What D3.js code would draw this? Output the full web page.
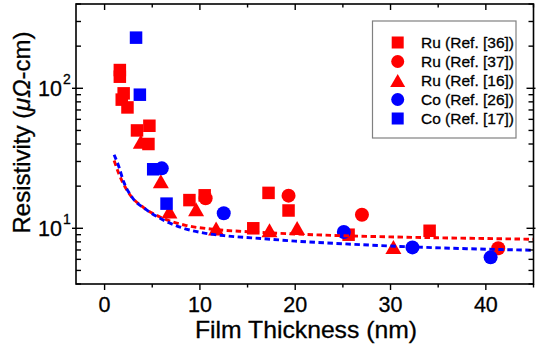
<!DOCTYPE html>
<html><head><meta charset="utf-8">
<script src="https://cdn.jsdelivr.net/npm/d3@7"></script>
<style>
html,body{margin:0;padding:0;background:#fff;}
svg{display:block;font-family:"Liberation Sans",Arial,sans-serif;}
text{stroke:#000;stroke-width:0.3px;}
</style></head>
<body>
<script>
// ---- data (thickness nm, resistivity µΩ-cm) ----
const ru36 = [[1.6,135],[1.6,121],[2.0,92],[1.8,83],[2.4,73],[3.4,50],[4.7,54],[4.6,40],[8.9,15.9],[10.5,17.2],[17.2,17.9],[19.3,13.4],[15.6,10.0],[25.6,9.0],[34.1,9.6]];
const ru37 = [[10.6,16.4],[19.3,17.1],[27.0,12.5],[41.3,7.2]];
const ru16 = [[3.8,41.5],[5.9,21.7],[6.8,13.2],[9.6,13.7],[11.7,9.95],[17.3,9.7],[20.2,10.05],[30.3,7.35]];
const co17 = [[3.3,230],[3.7,90],[5.1,26.4],[6.5,15.0]];
const co26 = [[6.0,26.8],[12.5,12.8],[25.1,9.4],[32.3,7.3],[40.5,6.2]];
const redFit = [[1.0,30.5],[1.5,24.5],[2.5,18.0],[4.0,14.2],[6.0,11.9],[8.5,10.5],[11.3,9.85],[15,9.45],[20,9.1],[25,8.85],[30,8.68],[35,8.55],[40,8.45],[45,8.35]];
const blueFit = [[1.0,33.5],[1.5,27.5],[2.0,21.5],[2.9,16.6],[4.3,13.7],[6.0,11.6],[8.1,10.1],[10.6,9.2],[13,8.8],[16.5,8.44],[20,8.1],[25,7.75],[31,7.42],[38,7.15],[45,6.97]];
const xTicks = [0,10,20,30,40];
const xMinor = [5,15,25,35,45];
const yMajor = [10,100];
const yMinor = [4,5,6,7,8,9,20,30,40,50,60,70,80,90,200,300,400];
const legendItems = [
  {label:"Ru (Ref. [36])", shape:"square", color:"#ff0000"},
  {label:"Ru (Ref. [37])", shape:"circle", color:"#ff0000"},
  {label:"Ru (Ref. [16])", shape:"triangle", color:"#ff0000"},
  {label:"Co (Ref. [26])", shape:"circle", color:"#0000ff"},
  {label:"Co (Ref. [17])", shape:"square", color:"#0000ff"}
];

const W=541,H=356;
const L=76,R=533.5,T=4,B=284;
const svg=d3.select("body").append("svg").attr("width",W).attr("height",H);
const x=d3.scaleLinear().domain([-3,45]).range([L,R]);
const y=d3.scaleLog().domain([4,400]).range([B,T]);

function shape(g,type,cx,cy,color,s){
  if(type==="square"){
    g.append("rect").attr("x",cx-s.sq/2).attr("y",cy-s.sq/2).attr("width",s.sq).attr("height",s.sq).attr("fill",color);
  } else if(type==="circle"){
    g.append("circle").attr("cx",cx).attr("cy",cy).attr("r",s.r).attr("fill",color);
  } else {
    const w=s.tw,h=s.th;
    g.append("path").attr("d",`M${cx},${cy-h/2}L${cx+w/2},${cy+h/2}L${cx-w/2},${cy+h/2}Z`).attr("fill",color);
  }
}
const sz={sq:12.5,r:7,tw:16,th:14};

// markers
const mg=svg.append("g");
const series=[[ru36,"square","#ff0000"],[ru37,"circle","#ff0000"],[ru16,"triangle","#ff0000"],[co17,"square","#0000ff"],[co26,"circle","#0000ff"]];
series.forEach(([data,type,color])=>{
  data.forEach(d=>shape(mg,type,x(d[0]),y(d[1]),color,sz));
});

// fit lines
const line=d3.line().x(d=>x(d[0])).y(d=>y(d[1])).curve(d3.curveMonotoneX);
svg.append("path").attr("d",line(redFit)).attr("fill","none").attr("stroke","#ff0000").attr("stroke-width",2.9).attr("stroke-dasharray","5.5,3.5");
svg.append("path").attr("d",line(blueFit)).attr("fill","none").attr("stroke","#0000ff").attr("stroke-width",2.9).attr("stroke-dasharray","5.5,3.5");

// frame
svg.append("rect").attr("x",L).attr("y",T).attr("width",R-L).attr("height",B-T).attr("fill","none").attr("stroke","#000").attr("stroke-width",1.6);

const tk=svg.append("g").attr("stroke","#000").attr("stroke-width",1.4);
xTicks.forEach(v=>{
  tk.append("line").attr("x1",x(v)).attr("x2",x(v)).attr("y1",B).attr("y2",B+6);
  tk.append("line").attr("x1",x(v)).attr("x2",x(v)).attr("y1",T).attr("y2",T+6);
});
xMinor.forEach(v=>{
  tk.append("line").attr("x1",x(v)).attr("x2",x(v)).attr("y1",B).attr("y2",B+3.5);
  tk.append("line").attr("x1",x(v)).attr("x2",x(v)).attr("y1",T).attr("y2",T+3.5);
});
yMajor.forEach(v=>{
  tk.append("line").attr("x1",L-4).attr("x2",L+7).attr("y1",y(v)).attr("y2",y(v));
  tk.append("line").attr("x1",R-7).attr("x2",R+2).attr("y1",y(v)).attr("y2",y(v));
});
yMinor.forEach(v=>{
  tk.append("line").attr("x1",L).attr("x2",L+5).attr("y1",y(v)).attr("y2",y(v));
  tk.append("line").attr("x1",R-5).attr("x2",R).attr("y1",y(v)).attr("y2",y(v));
});

// tick labels
const xl=svg.append("g").attr("font-size",21.5).attr("fill","#000").attr("text-anchor","middle");
xTicks.forEach(v=>xl.append("text").attr("x",x(v)).attr("y",312).text(v));
const yl=svg.append("g").attr("font-size",21.5).attr("fill","#000");
yMajor.forEach(v=>{
  yl.append("text").attr("x",62).attr("y",y(v)+7.5).attr("text-anchor","end").text("10");
  yl.append("text").attr("x",63).attr("y",y(v)-4.5).attr("font-size",14).text(Math.round(Math.log10(v)));
});

// axis titles
svg.append("text").attr("x",306).attr("y",338).attr("text-anchor","middle").attr("font-size",24)
  .attr("textLength",222).attr("lengthAdjust","spacingAndGlyphs").text("Film Thickness (nm)");
const yt=svg.append("text").attr("transform","translate(30,132.5) rotate(-90)").attr("text-anchor","middle").attr("font-size",24)
  .attr("textLength",202).attr("lengthAdjust","spacingAndGlyphs");
yt.append("tspan").text("Resistivity (");
yt.append("tspan").attr("font-style","italic").text("μΩ");
yt.append("tspan").text("-cm)");

// legend
const lg=svg.append("g");
lg.append("rect").attr("x",372.5).attr("y",21).attr("width",143.5).attr("height",117).attr("fill","#fff").attr("stroke","#808080").attr("stroke-width",1.2);
const lsz={sq:12,r:6.5,tw:15,th:13};
legendItems.forEach((it,i)=>{
  const cy=42.5+i*19;
  shape(lg,it.shape,397.7,cy,it.color,lsz);
  lg.append("text").attr("x",421).attr("y",cy+5.5).attr("font-size",15.5).attr("fill","#000").text(it.label);
});
</script>
</body></html>
